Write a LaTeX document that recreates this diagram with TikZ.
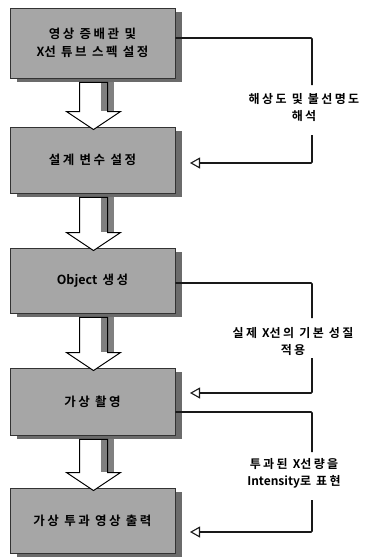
\documentclass[tikz,border=0pt]{standalone}
\usepackage{fontspec}
\setmainfont{Noto Sans CJK KR}[BoldFont={Noto Sans CJK KR Bold}]
\newfontfamily\spaced{Noto Sans CJK KR Bold}[LetterSpace=20]
\newfontfamily\lat{Noto Sans CJK KR Bold}
\usetikzlibrary{arrows.meta,calc,shadows}
\tikzset{
  box/.style={draw=black!80, line width=0.9pt, fill=gray!70, minimum width=165pt,
    font=\spaced\fontsize{12.5}{18}\selectfont, align=center, inner sep=2pt,
    general shadow={fill=black!58, shadow xshift=7pt, shadow yshift=-4pt}},
  lbl/.style={font=\spaced\fontsize{12}{17}\selectfont, align=center, inner sep=1pt},
  conn/.style={draw=black!90, line width=1.7pt, rounded corners=1pt},
  feed/.style={conn, -{Triangle[open, length=10pt, width=11pt, line width=1.1pt]}},
  barrow/.style={line width=1pt, fill=white, line join=miter},
  barrowshadow/.style={fill=black!50},
}
\newcommand{\blockarrow}[2]{%
  \fill[barrowshadow] let \p1=(#1.south), \p2=(#2.north) in
    (\x1+8pt,\y1-4pt) -- (\x1+8pt,\y2+15pt) -- (\x1+21pt,\y2+15pt) -- (\x1+21pt,\y1-4pt) -- cycle;
  \draw[barrow] let \p1=(#1.south), \p2=(#2.north) in
    (\x1-13pt,\y1-4pt) -- (\x1-13pt,\y2+15pt) -- (\x1-26pt,\y2+15pt) -- (\x1+1pt,\y2-3pt)
    -- (\x1+28pt,\y2+15pt) -- (\x1+15pt,\y2+15pt) -- (\x1+15pt,\y1-4pt) -- cycle;
  \fill[barrowshadow] let \p1=(#1.south), \p2=(#2.north) in
    (\x1+8pt,\y1-5pt) rectangle (\x1+14.4pt,\y2+15.6pt);
}
\begin{document}
\begin{tikzpicture}[x=1pt,y=-1pt]
\useasboundingbox (0,0) rectangle (368,560);
% boxes
\path (92.5,43) node[box, minimum height=70pt] (b1) {영상 증배관 및\\{\lat X}선 튜브 스펙 설정};
\path (92.5,160) node[box, minimum height=66pt] (b2) {설계 변수 설정};
\path (92.5,280.5) node[box, minimum height=65pt] (b3) {{\lat Object} 생성};
\path (92.5,401.5) node[box, minimum height=67pt] (b4) {가상 촬영};
\path (92.5,520.5) node[box, minimum height=65pt] (b5) {가상 투과 영상 출력};
% block arrows
\blockarrow{b1}{b2}
\blockarrow{b2}{b3}
\blockarrow{b3}{b4}
\blockarrow{b4}{b5}
% labels
\path (304,107.5) node[lbl] (l1) {해상도 및 불선명도\\해석};
\path (293,341.5) node[lbl] (l2) {실제 {\lat X}선의 기본 성질\\적용};
\path (294,473.5) node[lbl] (l3) {투과된 {\lat X}선량을\\{\lat Intensity}로 표현};
% feedback connectors
\coordinate (k1a) at (312,85);
\coordinate (k1b) at (312,135);
\coordinate (a1) at (190,163);
\coordinate (k2a) at (312,318);
\coordinate (k2b) at (312,358);
\coordinate (a2) at (190,393);
\coordinate (k3a) at (312,452);
\coordinate (k3b) at (312,500);
\coordinate (a3) at (190,532);
\draw[conn] ($(b1.east)+(0,-5)$) -| (k1a);
\draw[feed] (k1b) |- (a1);
\draw[conn] ($(b3.east)+(0,2.5)$) -| (k2a);
\draw[feed] (k2b) |- (a2);
\draw[conn] ($(b4.east)+(0,10.5)$) -| (k3a);
\draw[feed] (k3b) |- (a3);
\end{tikzpicture}
\end{document}
